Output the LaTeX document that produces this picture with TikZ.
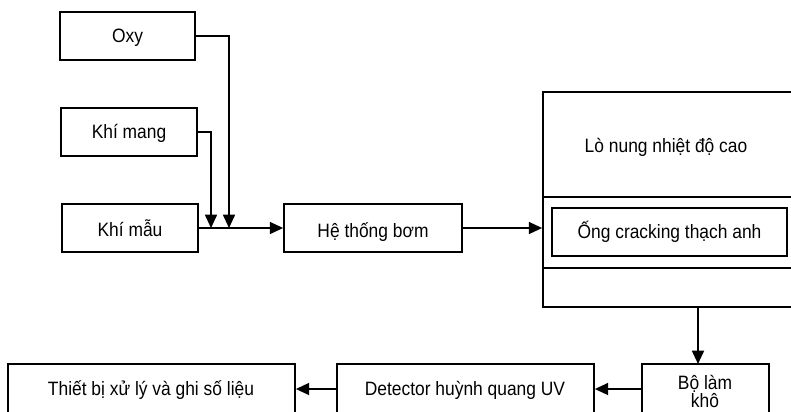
\documentclass[tikz,border=0pt]{standalone}
\usepackage{fontspec}
\setmainfont{Liberation Sans}[FakeStretch=0.9]
\usetikzlibrary{arrows.meta,fit,calc}
\begin{document}
\begin{tikzpicture}[x=0.75pt,y=-0.75pt,
  txt/.style={font=\fontsize{14.5}{16}\selectfont,align=center,text height=10.4pt,text depth=0pt,inner sep=0pt},
  box/.style={draw,line width=1.3pt,inner sep=0pt},
  arr/.style={line width=1.3pt,-{Triangle[length=10pt,width=9pt]}},
  ln/.style={line width=1.3pt}]
\useasboundingbox (0,0) rectangle (791,411);
\clip (0,0) rectangle (791,411);
\node[box,fit={(60,12) (195,60)},label={[txt]center:Oxy}] (oxy) {};
\node[box,fit={(61,108) (197,156)},label={[txt]center:Khí mang}] (mang) {};
\node[box,fit={(62,204) (198,252)},label={[txt,yshift=-1pt]center:Khí mẫu}] (mau) {};
\node[box,fit={(284,204) (462,252)},label={[txt,yshift=-2pt]center:Hệ thống bơm}] (bom) {};
\node[box,fit={(543,92) (810,307)}] (furn) {};
\coordinate (d1w) at (543,197); \coordinate (d1e) at (810,197);
\coordinate (d2w) at (543,268); \coordinate (d2e) at (810,268);
\draw[ln] (d1w) -- (d1e);
\draw[ln] (d2w) -- (d2e);
\node[txt] (lo) at (666,146) {Lò nung nhiệt độ cao};
\node[box,fit={(552,208) (787,256)},label={[txt]center:Ống cracking thạch anh}] (ong) {};
\node[box,fit={(642,364) (769,420)}] (dry) {};
\node[txt] (drytxt1) at (705,382.5) {Bộ làm};
\node[txt] (drytxt2) at (705,400.5) {khô};
\node[box,fit={(337,364) (594,414)}] (det) {};
\node[txt] (dettxt) at (465,388.5) {Detector huỳnh quang UV};
\node[box,fit={(8,364) (295,414)}] (tb) {};
\node[txt] (tbtxt) at (151,388.5) {Thiết bị xử lý và ghi số liệu};
\coordinate (j1) at (211,228);
\coordinate (j2) at (229,228);
\coordinate (fo) at (698,307);
\coordinate (di) at (698,364);
\draw[arr] (oxy.east) -| (j2);
\draw[arr] (mang.east) -| (j1);
\draw[arr] (mau.east) -- (bom.west);
\draw[arr] (bom.east) -- (bom.east -| furn.west);
\draw[arr] (fo) -- (di);
\draw[arr] (det.east -| dry.west) -- (det.east);
\draw[arr] (det.west) -- (tb.east);
\end{tikzpicture}
\end{document}
